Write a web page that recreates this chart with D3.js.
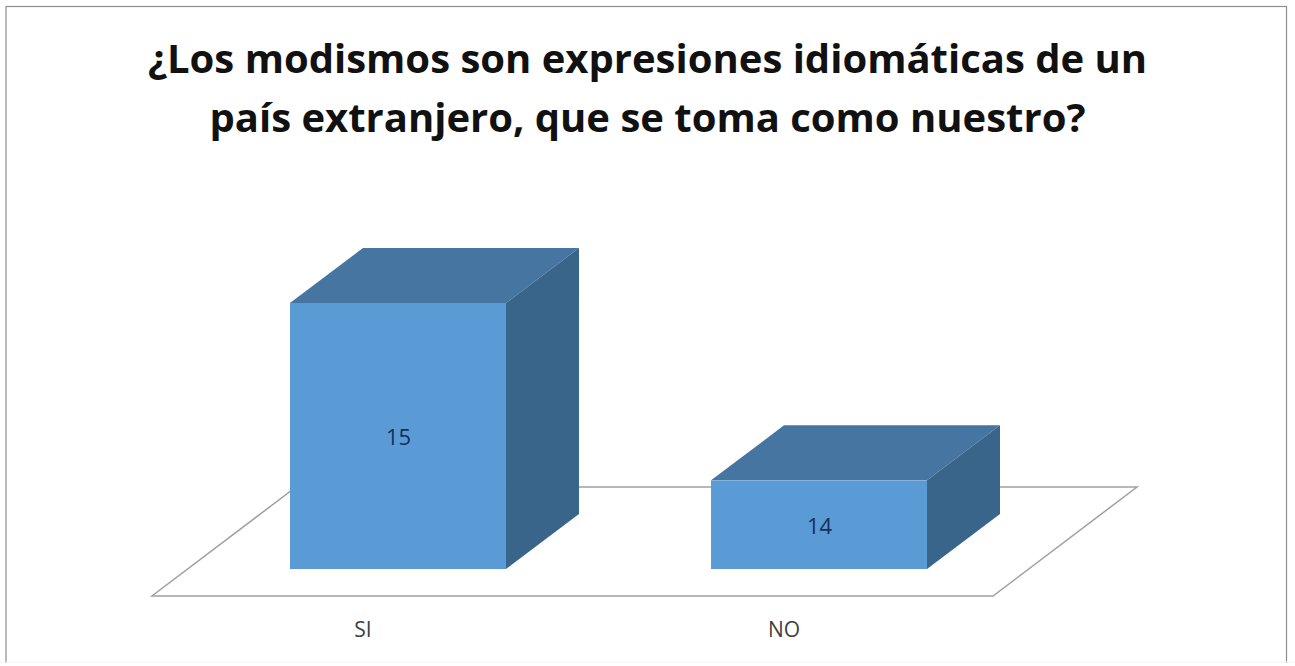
<!DOCTYPE html>
<html>
<head>
<meta charset="utf-8">
<script src="https://cdn.jsdelivr.net/npm/d3@7"></script>
<style>
html,body{margin:0;padding:0;background:#fff;overflow:hidden}
svg{display:block}
</style>
</head>
<body>
<svg id="chart" width="1295" height="666"></svg>
<script>
const categories = ["SI", "NO"];
const values = [15, 14];
const titleLines = ["¿Los modismos son expresiones idiomáticas de un", "país extranjero, que se toma como nuestro?"];

const colorFront = "#5b9bd5", colorTop = "#4675a2", colorSide = "#3a658b";
const depthX = 73, depthY = -55;
const svg = d3.select("#chart");

const x = d3.scaleBand().domain(categories).range([290, 927]).paddingInner(0.487).paddingOuter(0);
const y = d3.scaleLinear().domain([13.5, 15]).range([569, 303]);
const line = d3.line();

// frame
svg.append("rect").attr("x", 6).attr("y", 6.5).attr("width", 1280.5).attr("height", 700)
  .attr("fill", "#fff").attr("stroke", "#8e8e8e").attr("stroke-width", 1.2);
svg.append("line").attr("x1", 0).attr("x2", 1295).attr("y1", 662).attr("y2", 662)
  .attr("stroke", "#f4f4f4").attr("stroke-width", 1);
svg.append("rect").attr("x", 0).attr("y", 663).attr("width", 1295).attr("height", 3).attr("fill", "#fff");

// floor
svg.append("path")
  .attr("d", line([[152, 596], [993, 596], [1137, 487], [296, 487]]) + "Z")
  .attr("fill", "#fff").attr("stroke", "#a0a0a0").attr("stroke-width", 1.5);

// bars
const bar = svg.selectAll("g.bar").data(categories).join("g").attr("class", "bar");
bar.append("path").attr("fill", colorTop).attr("d", (c, i) => {
  const l = x(c), r = l + x.bandwidth(), t = y(values[i]);
  return line([[l, t], [r, t], [r + depthX, t + depthY], [l + depthX, t + depthY]]) + "Z";
});
bar.append("path").attr("fill", colorSide).attr("d", (c, i) => {
  const r = x(c) + x.bandwidth(), t = y(values[i]), b = y.range()[0];
  return line([[r, t], [r + depthX, t + depthY], [r + depthX, b + depthY], [r, b]]) + "Z";
});
bar.append("rect").attr("fill", colorFront)
  .attr("x", c => x(c)).attr("width", x.bandwidth())
  .attr("y", (c, i) => y(values[i])).attr("height", (c, i) => y.range()[0] - y(values[i]));

// data labels
bar.append("text")
  .attr("x", c => x(c) + x.bandwidth() / 2 + 0.5)
  .attr("y", (c, i) => (y(values[i]) + y.range()[0]) / 2 + 9)
  .attr("text-anchor", "middle")
  .attr("font-family", "'Open Sans', 'Noto Sans', sans-serif")
  .attr("font-size", 22).attr("fill", "#14305a")
  .text((c, i) => values[i]);

// category labels
svg.selectAll("text.cat").data(categories).join("text").attr("class", "cat")
  .attr("x", c => x(c) + x.bandwidth() / 2 - 35)
  .attr("y", 637)
  .attr("text-anchor", "middle")
  .attr("font-family", "'Open Sans', 'Noto Sans', sans-serif")
  .attr("font-size", 21).attr("fill", "#404040")
  .text(c => c);

// title
svg.selectAll("text.title").data(titleLines).join("text").attr("class", "title")
  .attr("x", 647.5)
  .attr("y", (d, i) => 73 + i * 58.5)
  .attr("text-anchor", "middle")
  .attr("font-family", "'Open Sans', 'Noto Sans', sans-serif")
  .attr("font-weight", 700).attr("font-size", 40).attr("fill", "#111")
  .text(d => d);
</script>
</body>
</html>
